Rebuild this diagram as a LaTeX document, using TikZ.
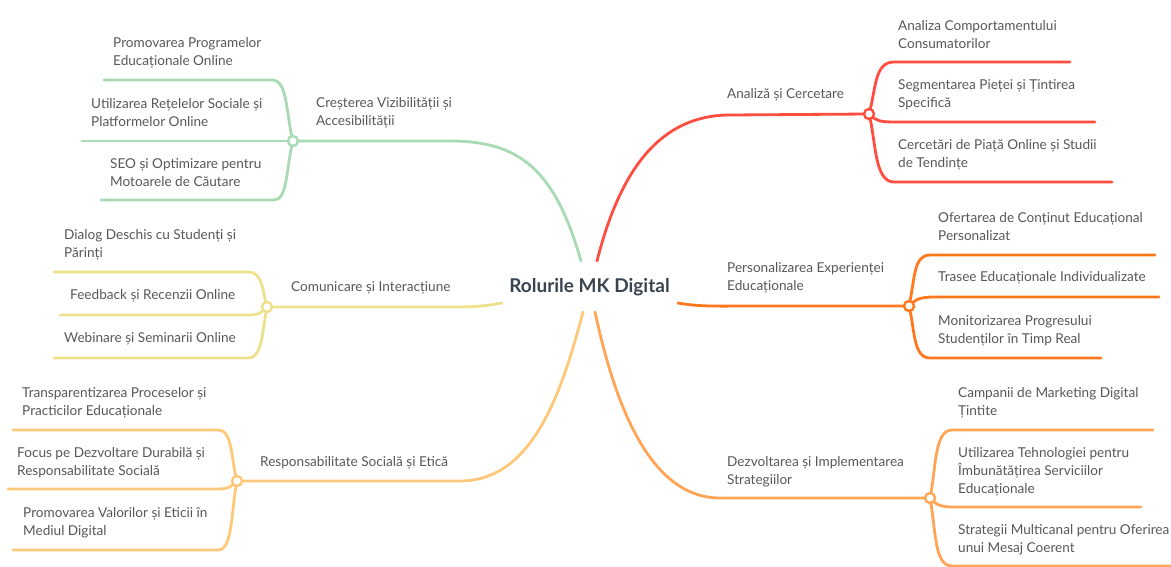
\documentclass[tikz,border=0pt]{standalone}
\usepackage{fontspec}
\setmainfont{Lato}
\definecolor{cgreen}{RGB}{168,218,181}
\definecolor{cred}{RGB}{255,77,64}
\definecolor{cyellow}{RGB}{238,225,140}
\definecolor{corange}{RGB}{255,120,30}
\definecolor{clight}{RGB}{255,200,120}
\definecolor{cmid}{RGB}{255,165,85}
\definecolor{txt}{RGB}{88,88,88}
\definecolor{titlec}{RGB}{58,68,80}
\begin{document}
\begin{tikzpicture}[x=1pt,y=-1pt,
  lbl/.style={font=\fontsize{13.6}{18}\selectfont, text=txt, align=left, anchor=west, inner sep=0pt, yshift=-1.5pt},
  title/.style={font=\fontsize{19}{22}\bfseries, text=titlec, inner sep=0pt},
  br/.style={line width=2.8pt, line cap=round},
  junc/.style={circle, draw=#1, fill=white, line width=2.4pt, minimum size=10pt, inner sep=0pt}
]
\useasboundingbox (0,0) rectangle (1171,567);
\fill[white] (0,0) rectangle (1171,567);

% root
\node[title] (root) at (589.5,287) {Rolurile MK Digital};
\coordinate (rG) at (581,261);
\coordinate (rR) at (597,261);
\coordinate (rY) at (502,303);
\coordinate (rO) at (678,303);
\coordinate (rL) at (583,312);
\coordinate (rM) at (595,312);

% junction positions
\coordinate (pG) at (293,141);
\coordinate (pR) at (869,114);
\coordinate (pY) at (267,307);
\coordinate (pO) at (909,306);
\coordinate (pL) at (237,481);
\coordinate (pM) at (930,498);

% free ends of child lines
\coordinate (eG1) at (104,80);  \coordinate (eG2) at (82,141);  \coordinate (eG3) at (101,200);
\coordinate (eR1) at (1070,62); \coordinate (eR2) at (1095,122); \coordinate (eR3) at (1112,182);
\coordinate (eY1) at (54,272);  \coordinate (eY2) at (60,315);  \coordinate (eY3) at (54,358);
\coordinate (eO1) at (1155,255); \coordinate (eO2) at (1159,297); \coordinate (eO3) at (1101,358);
\coordinate (eL1) at (13,430);  \coordinate (eL2) at (8,489);   \coordinate (eL3) at (13,550);
\coordinate (eM1) at (1153,430); \coordinate (eM2) at (1141,507); \coordinate (eM3) at (1180,566);

% main branches
\draw[br, cgreen] (rG) .. controls (555,170) and (520,141) .. (450,141) -- (pG);
\draw[br, cred] (rR) .. controls (620,170) and (660,115) .. (730,115) -- (pR);
\draw[br, cyellow] (rY) .. controls (480,307) and (470,307) .. (440,307) -- (pY);
\draw[br, corange] (rO) .. controls (700,307) and (720,306) .. (750,306) -- (pO);
\draw[br, clight] (rL) .. controls (560,400) and (530,481) .. (460,481) -- (pL);
\draw[br, cmid] (rM) .. controls (615,405) and (650,498) .. (720,498) -- (pM);

% green children
\draw[br, cgreen] (pG) .. controls (286,115) and (288,80) .. (272,80) -- (eG1);
\draw[br, cgreen] (pG) -- (eG2);
\draw[br, cgreen] (pG) .. controls (286,167) and (288,200) .. (274,200) -- (eG3);
% red children
\draw[br, cred] (pR) .. controls (876,90) and (874,62) .. (894,62) -- (eR1);
\draw[br, cred] (pR) .. controls (876,121) and (880,122) .. (895,122) -- (eR2);
\draw[br, cred] (pR) .. controls (876,140) and (874,182) .. (894,182) -- (eR3);
% yellow children
\draw[br, cyellow] (pY) .. controls (262,290) and (263,272) .. (248,272) -- (eY1);
\draw[br, cyellow] (pY) .. controls (262,313) and (258,315) .. (248,315) -- (eY2);
\draw[br, cyellow] (pY) .. controls (262,330) and (263,358) .. (248,358) -- (eY3);
% orange children
\draw[br, corange] (pO) .. controls (915,280) and (913,255) .. (930,255) -- (eO1);
\draw[br, corange] (pO) .. controls (915,300) and (918,297) .. (935,297) -- (eO2);
\draw[br, corange] (pO) .. controls (915,330) and (913,358) .. (930,358) -- (eO3);
% light orange children
\draw[br, clight] (pL) .. controls (231,460) and (233,430) .. (218,430) -- (eL1);
\draw[br, clight] (pL) .. controls (231,487) and (228,489) .. (218,489) -- (eL2);
\draw[br, clight] (pL) .. controls (231,510) and (233,550) .. (218,550) -- (eL3);
% mid orange children
\draw[br, cmid] (pM) .. controls (936,470) and (934,430) .. (952,430) -- (eM1);
\draw[br, cmid] (pM) .. controls (936,505) and (940,507) .. (955,507) -- (eM2);
\draw[br, cmid] (pM) .. controls (936,530) and (934,566) .. (952,566) -- (eM3);

% junction circles
\node[junc=cgreen] (jG) at (pG) {};
\node[junc=cred] (jR) at (pR) {};
\node[junc=cyellow] (jY) at (pY) {};
\node[junc=corange] (jO) at (pO) {};
\node[junc=clight] (jL) at (pL) {};
\node[junc=cmid] (jM) at (pM) {};

% branch labels
\node[lbl] (bG) at (316,111) {Creșterea Vizibilității și\\Accesibilității};
\node[lbl] (bR) at (727,93) {Analiză și Cercetare};
\node[lbl] (bY) at (291,286) {Comunicare și Interacțiune};
\node[lbl] (bO) at (727,276) {Personalizarea Experienței\\Educaționale};
\node[lbl] (bL) at (260,461) {Responsabilitate Socială și Etică};
\node[lbl] (bM) at (727,470) {Dezvoltarea și Implementarea\\Strategiilor};

% child labels
\node[lbl] (cG1) at (113,51) {Promovarea Programelor\\Educaționale Online};
\node[lbl] (cG2) at (91,111) {Utilizarea Rețelelor Sociale și\\Platformelor Online};
\node[lbl] (cG3) at (110,171) {SEO și Optimizare pentru\\Motoarele de Căutare};

\node[lbl] (cR1) at (898,33) {Analiza Comportamentului\\Consumatorilor};
\node[lbl] (cR2) at (898,93) {Segmentarea Pieței și Țintirea\\Specifică};
\node[lbl] (cR3) at (898,153) {Cercetări de Piață Online și Studii\\de Tendințe};

\node[lbl] (cY1) at (64,243) {Dialog Deschis cu Studenți și\\Părinți};
\node[lbl] (cY2) at (70,294) {Feedback și Recenzii Online};
\node[lbl] (cY3) at (64,337) {Webinare și Seminarii Online};

\node[lbl] (cO1) at (938,225) {Ofertarea de Conținut Educațional\\Personalizat};
\node[lbl] (cO2) at (938,276) {Trasee Educaționale Individualizate};
\node[lbl] (cO3) at (938,329) {Monitorizarea Progresului\\Studenților în Timp Real};

\node[lbl] (cL1) at (22,401) {Transparentizarea Proceselor și\\Practicilor Educaționale};
\node[lbl] (cL2) at (17,461) {Focus pe Dezvoltare Durabilă și\\Responsabilitate Socială};
\node[lbl] (cL3) at (23,521) {Promovarea Valorilor și Eticii în\\Mediul Digital};

\node[lbl] (cM1) at (958,401) {Campanii de Marketing Digital\\Țintite};
\node[lbl] (cM2) at (958,470) {Utilizarea Tehnologiei pentru\\Îmbunătățirea Serviciilor\\Educaționale};
\node[lbl] (cM3) at (958,538) {Strategii Multicanal pentru Oferirea\\unui Mesaj Coerent};
\end{tikzpicture}
\end{document}
